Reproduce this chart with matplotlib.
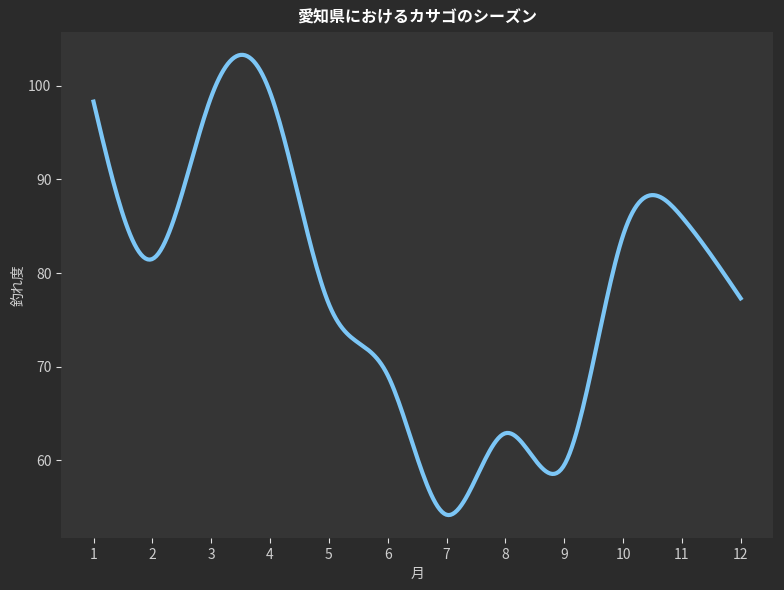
import numpy as np
import matplotlib
matplotlib.use("Agg")
import matplotlib.pyplot as plt

plt.rcParams['font.family'] = ['Noto Sans CJK JP', 'DejaVu Sans']

months = [1, 2, 3, 4, 5, 6, 7, 8, 9, 10, 11, 12]
catch_rate = [98.3, 81.5, 98.8, 99.3, 76.7, 69.1, 54.2, 62.9, 59.5, 84.0, 86.0, 77.3]


def natural_spline(x, y, num=300):
    # natural cubic spline, equal spacing
    x = np.asarray(x, dtype=float)
    y = np.asarray(y, dtype=float)
    n = len(x)
    h = x[1] - x[0]
    A = np.zeros((n, n))
    b = np.zeros(n)
    A[0, 0] = 1
    A[-1, -1] = 1
    for i in range(1, n - 1):
        A[i, i - 1:i + 2] = [1, 4, 1]
        b[i] = 6 * (y[i - 1] - 2 * y[i] + y[i + 1]) / h ** 2
    M = np.linalg.solve(A, b)
    xs = np.linspace(x[0], x[-1], num)
    idx = np.clip(((xs - x[0]) // h).astype(int), 0, n - 2)
    t = (xs - x[idx]) / h
    ys = ((1 - t) * y[idx] + t * y[idx + 1]
          + ((1 - t) ** 3 - (1 - t)) * M[idx] * h ** 2 / 6
          + (t ** 3 - t) * M[idx + 1] * h ** 2 / 6)
    return xs, ys


xs, ys = natural_spline(months, catch_rate)

fig = plt.figure(figsize=(7.84, 5.9), dpi=100, facecolor='#2b2b2b')
ax = fig.add_axes([0.078, 0.088, 0.908, 0.858], facecolor='#353535')
ax.plot(xs, ys, color='#7cc6f6', linewidth=3)

ax.set_xticks(months)
for s in ax.spines.values():
    s.set_visible(False)
ax.tick_params(colors='#e0e0e0', labelcolor='#cfcfcf', labelsize=10)
ax.set_title('愛知県におけるカサゴのシーズン', color='white', fontsize=11.5,
             fontweight='bold', pad=7)
ax.set_xlabel('月', color='#cfcfcf', fontsize=10)
ax.set_ylabel('釣れ度', color='#cfcfcf', fontsize=10, labelpad=2)

fig.savefig('out.png', dpi=100, facecolor=fig.get_facecolor())
